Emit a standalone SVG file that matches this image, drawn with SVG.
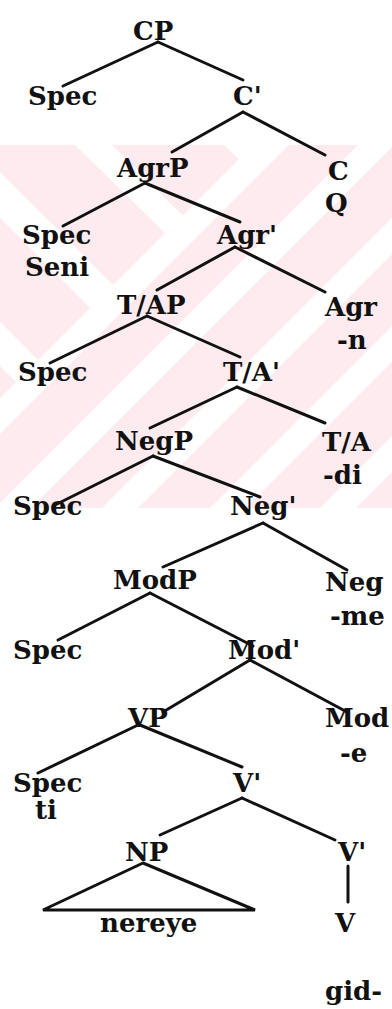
<svg xmlns="http://www.w3.org/2000/svg" width="392" height="1009" viewBox="0 0 392 1009">
  <style>
    .lbl { font-family: "DejaVu Serif", "Liberation Serif", serif; font-weight: bold; font-size: 26px; fill: #111; }
    .edge { stroke: #111; stroke-width: 3; stroke-linecap: round; fill: none; }
    .wm { fill: #fdebef; }
    .wmcut { fill: #ffffff; }
  </style>
  <rect width="392" height="1009" fill="#ffffff"/>
  <!-- faint background band with diagonal stripes -->
  <g id="backdrop">
    <rect class="wm" x="0" y="145" width="392" height="363"/>
    <!-- rising stripes -->
    <polygon class="wmcut" points="253,145 289,145 0,434 0,398"/>
    <polygon class="wmcut" points="358,145 394,145 31,508 -5,508"/>
    <polygon class="wmcut" points="392,218 392,254 138,508 102,508"/>
    <polygon class="wmcut" points="392,326 392,362 246,508 210,508"/>
    <polygon class="wmcut" points="392,436 392,472 356,508 320,508"/>
    <!-- falling stripes, upper left -->
    <polygon class="wmcut" points="224,145 259,145 239.5,159.5"/>
    <polygon class="wmcut" points="75,145 112,145 183.5,216.5 165,233"/>
    <polygon class="wmcut" points="0,172 0,218 90,308 113,285"/>
    <polygon class="wmcut" points="0,322 0,366 16,382 38,360"/>
  </g>
  <g id="connectors">
    <line class="edge" x1="158" y1="42" x2="63" y2="86"/>
    <line class="edge" x1="158" y1="42" x2="243" y2="80"/>
    <line class="edge" x1="243" y1="112" x2="172" y2="152"/>
    <line class="edge" x1="243" y1="112" x2="325" y2="155"/>
    <line class="edge" x1="145" y1="183" x2="63" y2="226"/>
    <line class="edge" x1="145" y1="183" x2="240" y2="222"/>
    <line class="edge" x1="235" y1="247" x2="157" y2="290"/>
    <line class="edge" x1="235" y1="247" x2="325" y2="292"/>
    <line class="edge" x1="147" y1="316" x2="50" y2="363"/>
    <line class="edge" x1="147" y1="316" x2="240" y2="357"/>
    <line class="edge" x1="237" y1="387" x2="150" y2="428"/>
    <line class="edge" x1="237" y1="387" x2="325" y2="423"/>
    <line class="edge" x1="153" y1="456" x2="55" y2="505"/>
    <line class="edge" x1="153" y1="456" x2="260" y2="497"/>
    <line class="edge" x1="263" y1="523" x2="163" y2="567"/>
    <line class="edge" x1="263" y1="523" x2="347" y2="570"/>
    <line class="edge" x1="150" y1="593" x2="58" y2="640"/>
    <line class="edge" x1="150" y1="593" x2="253" y2="646"/>
    <line class="edge" x1="250" y1="660" x2="163" y2="712"/>
    <line class="edge" x1="250" y1="660" x2="347" y2="712"/>
    <line class="edge" x1="138" y1="725" x2="38" y2="773"/>
    <line class="edge" x1="140" y1="725" x2="242" y2="767"/>
    <line class="edge" x1="242" y1="798" x2="160" y2="835"/>
    <line class="edge" x1="242" y1="798" x2="335" y2="840"/>
    <line class="edge" x1="348" y1="866" x2="348" y2="902"/>
    <polygon class="edge" points="143,863 43,910 255,910"/>
  </g>
  <g id="n-cp"><text class="lbl" x="133" y="40">CP</text></g>
  <g id="n-spec1"><text class="lbl" x="28" y="105">Spec</text></g>
  <g id="n-cbar"><text class="lbl" x="233" y="105">C'</text></g>
  <g id="n-agrp"><text class="lbl" x="117" y="177">AgrP</text></g>
  <g id="n-c"><text class="lbl" x="328" y="180">C</text><text class="lbl" x="325" y="212">Q</text></g>
  <g id="n-spec2"><text class="lbl" x="22" y="244">Spec</text><text class="lbl" x="25" y="276">Seni</text></g>
  <g id="n-agrbar"><text class="lbl" x="217" y="244">Agr'</text></g>
  <g id="n-tap"><text class="lbl" x="117" y="314">T/AP</text></g>
  <g id="n-agr"><text class="lbl" x="325" y="316">Agr</text><text class="lbl" x="337" y="349">-n</text></g>
  <g id="n-spec3"><text class="lbl" x="18" y="381">Spec</text></g>
  <g id="n-tabar"><text class="lbl" x="223" y="381">T/A'</text></g>
  <g id="n-negp"><text class="lbl" x="115" y="450">NegP</text></g>
  <g id="n-ta"><text class="lbl" x="322" y="451">T/A</text><text class="lbl" x="323" y="484">-di</text></g>
  <g id="n-spec4"><text class="lbl" x="13" y="515">Spec</text></g>
  <g id="n-negbar"><text class="lbl" x="230" y="515">Neg'</text></g>
  <g id="n-modp"><text class="lbl" x="113" y="589">ModP</text></g>
  <g id="n-neg"><text class="lbl" x="325" y="591">Neg</text><text class="lbl" x="330" y="625">-me</text></g>
  <g id="n-spec5"><text class="lbl" x="13" y="659">Spec</text></g>
  <g id="n-modbar"><text class="lbl" x="228" y="659">Mod'</text></g>
  <g id="n-vp"><text class="lbl" x="128" y="727">VP</text></g>
  <g id="n-mod"><text class="lbl" x="325" y="727">Mod</text><text class="lbl" x="340" y="762">-e</text></g>
  <g id="n-spec6"><text class="lbl" x="13" y="792">Spec</text><text class="lbl" x="35" y="819">ti</text></g>
  <g id="n-vbar"><text class="lbl" x="233" y="792">V'</text></g>
  <g id="n-np"><text class="lbl" x="125" y="861">NP</text><text class="lbl" x="100" y="932">nereye</text></g>
  <g id="n-vbar2"><text class="lbl" x="338" y="861">V'</text></g>
  <g id="n-v"><text class="lbl" x="335" y="932">V</text></g>
  <g id="n-gid"><text class="lbl" x="325" y="1000">gid-</text></g>
</svg>
